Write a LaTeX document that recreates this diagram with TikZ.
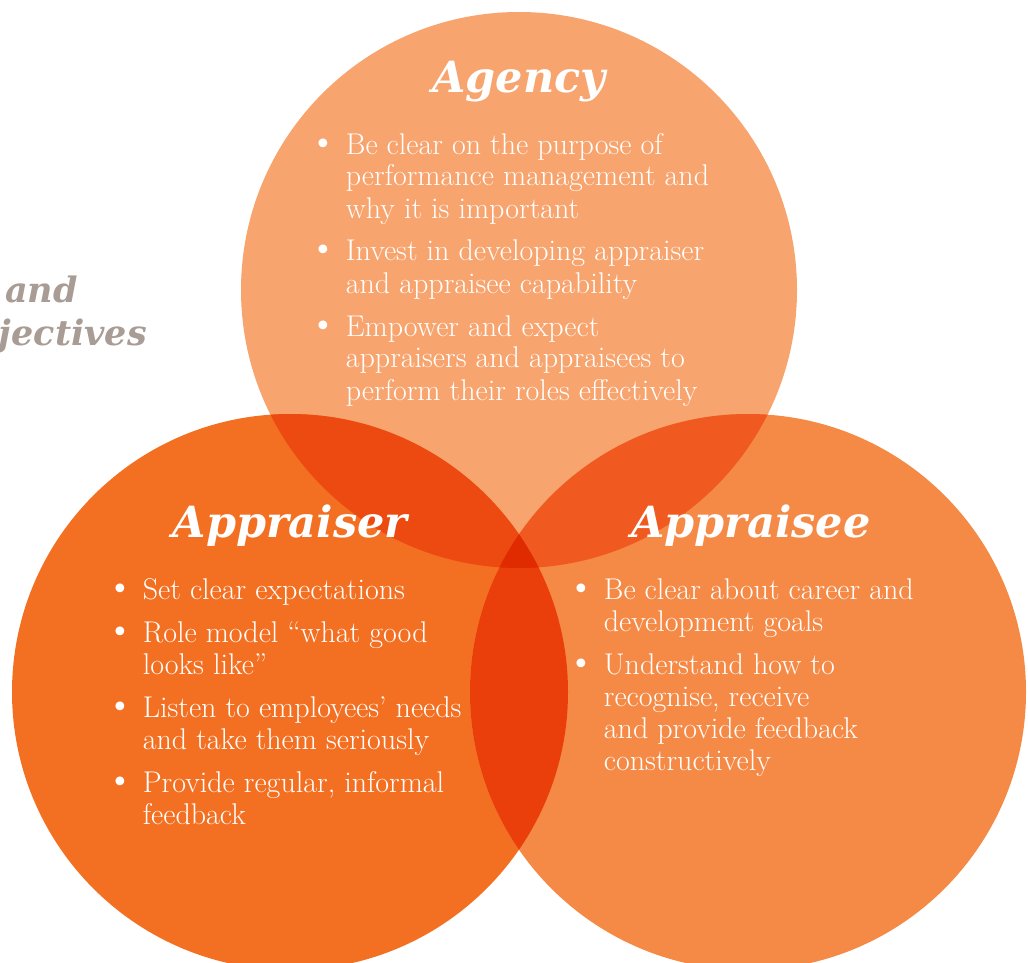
\documentclass[tikz,border=0pt]{standalone}
\usepackage{fontspec}
\newfontfamily\headfont{DejaVu Serif}
\definecolor{agencyc}{HTML}{F7A46E}
\definecolor{appraiserc}{HTML}{F37022}
\definecolor{appraiseec}{HTML}{F58A47}
\definecolor{agapprc}{HTML}{EC4A11}
\definecolor{agapprec}{HTML}{F05A21}
\definecolor{bothc}{HTML}{EA3E0B}
\definecolor{allc}{HTML}{E02A00}
\definecolor{greyc}{HTML}{A89C94}
\newcommand{\rad}{278pt}
\newcommand{\bul}{{\headfont\textbullet}}
\tikzset{
  head/.style={font=\headfont\bfseries\itshape\fontsize{43}{48}\selectfont, text=white, inner sep=0pt, anchor=base},
  side/.style={font=\headfont\bfseries\itshape\fontsize{35}{40}\selectfont, text=greyc, inner sep=0pt, anchor=base east},
  points/.style={font=\fontsize{30}{32}\selectfont, text=white, inner sep=0pt, anchor=base west},
}
\newcommand{\blist}[1]{\begin{tabular}[t]{@{}l@{\hspace{14pt}}l@{}}#1\end{tabular}}
\begin{document}
\begin{tikzpicture}[x=1pt, y=-1pt]
  \useasboundingbox (0,0) rectangle (1028,963);

  \coordinate (agency) at (519,290);
  \coordinate (appraiser) at (290,692);
  \coordinate (appraisee) at (748,692);

  \fill [agencyc] (agency) circle [radius=\rad];
  \fill [appraiserc] (appraiser) circle [radius=\rad];
  \fill [appraiseec] (appraisee) circle [radius=\rad];
  \begin{scope}
    \clip (agency) circle [radius=\rad];
    \fill [agapprc] (appraiser) circle [radius=\rad];
    \fill [agapprec] (appraisee) circle [radius=\rad];
  \end{scope}
  \begin{scope}
    \clip (appraiser) circle [radius=\rad];
    \fill [bothc] (appraisee) circle [radius=\rad];
    \clip (agency) circle [radius=\rad];
    \fill [allc] (appraisee) circle [radius=\rad];
  \end{scope}

  % cut-off text on the left
  \node [side] (and) at (78,302) {and};
  \node [side] (objectives) at (147,345) {objectives};

  \node [head] (agencyhead) at (519,93) {Agency};
  \node [head] (appraiserhead) at (290,537) {Appraiser};
  \node [head] (appraiseehead) at (751,537) {Appraisee};

  \node [points] (agencylist) at (314,154) {\blist{%
    \bul & Be clear on the purpose of\\
    & performance management and\\
    & why it is important\\[11pt]
    \bul & Invest in developing appraiser\\
    & and appraisee capability\\[11pt]
    \bul & Empower and expect\\
    & appraisers and appraisees to\\
    & perform their roles effectively}};
  \node [points] (appraiserlist) at (111,599) {\blist{%
    \bul & Set clear expectations\\[11pt]
    \bul & Role model “what good\\
    & looks like”\\[11pt]
    \bul & Listen to employees’ needs\\
    & and take them seriously\\[11pt]
    \bul & Provide regular, informal\\
    & feedback}};
  \node [points] (appraiseelist) at (572,599) {\blist{%
    \bul & Be clear about career and\\
    & development goals\\[11pt]
    \bul & Understand how to\\
    & recognise, receive\\
    & and provide feedback\\
    & constructively}};
\end{tikzpicture}
\end{document}
